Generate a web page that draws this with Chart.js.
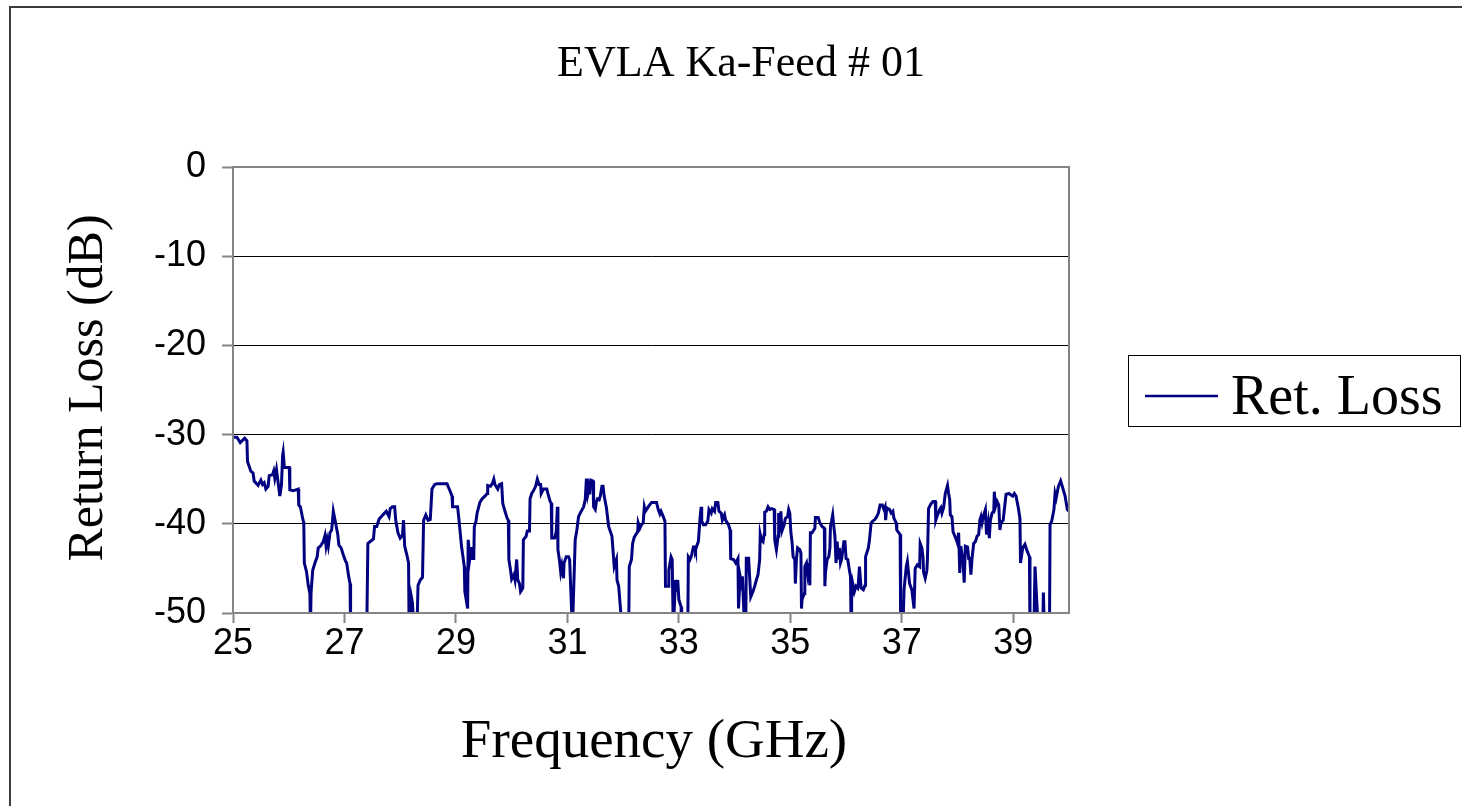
<!DOCTYPE html>
<html>
<head>
<meta charset="utf-8">
<script src="https://cdn.jsdelivr.net/npm/chart.js@4.4.1/dist/chart.umd.min.js"></script>
<style>
  html, body { margin: 0; padding: 0; background: #ffffff; }
  #wrap { position: relative; width: 1462px; height: 806px; }
  canvas { display: block; }
</style>
</head>
<body>
<div id="wrap"><canvas id="c" width="1462" height="806"></canvas></div>
<script>
// ---- Data ----
const chartTitle = "EVLA Ka-Feed # 01";
const xTitle = "Frequency (GHz)";
const yTitle = "Return Loss (dB)";
const seriesName = "Ret. Loss";

const xTicks = [25, 27, 29, 31, 33, 35, 37, 39];
const yTicks = [0, -10, -20, -30, -40, -50];

// Frequency (GHz); values of -52 lie below the -50 dB floor of the plot.
const freq = [
  25.00,25.07,25.13,25.21,25.25,25.26,25.32,25.36,25.38,25.45,
  25.50,25.53,25.56,25.59,25.63,25.65,25.71,25.73,25.75,25.78,
  25.83,25.84,25.87,25.89,25.90,25.92,25.95,26.01,26.02,26.08,
  26.17,26.18,26.21,26.25,26.27,26.28,26.32,26.35,26.38,26.39,
  26.40,26.43,26.47,26.51,26.53,26.57,26.62,26.65,26.67,26.69,
  26.71,26.74,26.77,26.80,26.84,26.88,26.90,26.94,26.98,27.02,
  27.04,27.07,27.10,27.11,27.40,27.42,27.48,27.52,27.54,27.58,
  27.62,27.69,27.75,27.80,27.82,27.86,27.90,27.92,27.96,28.00,
  28.04,28.06,28.08,28.12,28.15,28.16,28.20,28.22,28.25,28.30,
  28.32,28.36,28.40,28.42,28.46,28.50,28.54,28.57,28.62,28.66,
  28.84,28.90,28.93,28.94,29.03,29.06,29.10,29.15,29.16,29.21,
  29.22,29.25,29.28,29.29,29.32,29.33,29.36,29.38,29.43,29.47,
  29.52,29.56,29.57,29.62,29.66,29.68,29.70,29.75,29.78,29.82,
  29.84,29.88,29.92,29.94,29.95,29.98,30.00,30.04,30.06,30.09,
  30.11,30.14,30.16,30.20,30.21,30.26,30.28,30.32,30.33,30.36,
  30.39,30.43,30.46,30.49,30.52,30.53,30.57,30.63,30.65,30.69,
  30.71,30.72,30.77,30.80,30.82,30.83,30.86,30.88,30.90,30.93,
  30.94,30.98,31.02,31.04,31.09,31.14,31.17,31.20,31.23,31.29,
  31.32,31.34,31.36,31.37,31.39,31.40,31.42,31.46,31.47,31.50,
  31.52,31.54,31.57,31.59,31.62,31.64,31.66,31.70,31.74,31.80,
  31.84,31.88,31.89,31.92,31.95,31.98,32.10,32.11,32.15,32.17,
  32.20,32.26,32.27,32.30,32.33,32.36,32.38,32.40,32.45,32.51,
  32.60,32.63,32.66,32.68,32.72,32.75,32.76,32.81,32.82,32.86,
  32.88,32.90,32.94,32.96,32.98,33.00,33.04,33.05,33.16,33.17,
  33.20,33.23,33.26,33.29,33.30,33.32,33.35,33.38,33.40,33.41,
  33.44,33.48,33.52,33.54,33.58,33.60,33.64,33.66,33.70,33.72,
  33.76,33.78,33.82,33.84,33.89,33.92,33.93,33.98,34.02,34.06,
  34.07,34.10,34.13,34.14,34.18,34.20,34.21,34.24,34.25,34.29,
  34.33,34.36,34.39,34.42,34.45,34.46,34.48,34.51,34.53,34.54,
  34.57,34.60,34.63,34.66,34.71,34.72,34.75,34.78,34.79,34.81,
  34.83,34.85,34.89,34.91,34.95,34.97,34.99,35.01,35.03,35.05,
  35.08,35.09,35.11,35.13,35.17,35.19,35.20,35.21,35.25,35.26,
  35.29,35.31,35.33,35.35,35.36,35.39,35.44,35.45,35.50,35.53,
  35.57,35.61,35.62,35.63,35.66,35.69,35.71,35.72,35.74,35.76,
  35.78,35.80,35.82,35.84,35.86,35.88,35.90,35.92,35.96,35.98,
  36.00,36.03,36.06,36.08,36.09,36.10,36.12,36.15,36.18,36.21,
  36.22,36.24,36.27,36.31,36.34,36.35,36.40,36.42,36.45,36.48,
  36.52,36.55,36.58,36.61,36.65,36.68,36.70,36.71,36.73,36.78,
  36.81,36.84,36.86,36.90,36.91,36.97,36.98,37.02,37.04,37.08,
  37.10,37.14,37.18,37.22,37.24,37.28,37.32,37.33,37.36,37.38,
  37.39,37.42,37.45,37.46,37.48,37.52,37.56,37.60,37.61,37.63,
  37.68,37.70,37.72,37.75,37.78,37.82,37.84,37.86,37.87,37.90,
  37.92,37.94,37.98,38.00,38.02,38.04,38.06,38.10,38.12,38.14,
  38.18,38.20,38.22,38.24,38.26,38.29,38.32,38.35,38.38,38.40,
  38.42,38.44,38.47,38.50,38.52,38.55,38.57,38.59,38.62,38.65,
  38.66,38.68,38.71,38.74,38.76,38.78,38.82,38.84,38.87,38.92,
  38.99,39.02,39.05,39.09,39.12,39.13,39.17,39.21,39.24,39.29,
  39.30,39.37,39.39,39.42,39.45,39.53,39.54,39.56,39.65,39.66,
  39.69,39.73,39.75,39.77,39.81,39.85,39.88,39.93,39.97,40.00
];

// Return loss (dB)
const loss = [
  -30.3,-30.3,-30.9,-30.4,-30.7,-33.0,-34.1,-34.3,-35.2,-35.7,
  -35.1,-35.6,-35.4,-36.1,-35.8,-34.6,-34.5,-34.1,-34.9,-33.9,
  -36.4,-36.9,-35.6,-32.4,-32.0,-33.6,-33.7,-33.7,-36.2,-36.3,
  -36.1,-37.9,-38.1,-39.4,-39.9,-44.4,-45.4,-46.9,-47.8,-52,
  -47.8,-45.2,-44.4,-43.7,-42.7,-42.5,-42.0,-41.3,-42.5,-41.8,
  -42.5,-41.0,-40.7,-38.6,-39.9,-41.2,-42.4,-42.7,-43.5,-44.2,
  -44.4,-45.7,-46.7,-52,-52,-42.2,-41.9,-41.7,-40.3,-40.3,
  -39.5,-39.0,-38.6,-39.2,-38.3,-38.1,-38.1,-39.6,-41.0,-41.6,
  -41.3,-39.6,-42.5,-43.5,-44.4,-52,-48.2,-48.9,-52,-52,
  -46.9,-46.3,-46.0,-39.6,-39.0,-39.6,-39.5,-36.1,-35.6,-35.5,
  -35.5,-36.4,-36.9,-38.1,-38.1,-39.9,-42.5,-44.8,-47.6,-49.5,
  -41.8,-43.9,-42.6,-43.9,-43.9,-40.3,-39.7,-38.8,-37.6,-37.2,
  -36.9,-36.6,-35.7,-35.8,-35.4,-35.0,-35.6,-36.1,-35.6,-35.5,
  -37.7,-38.6,-39.4,-39.6,-44.0,-45.2,-46.2,-45.7,-46.3,-44.0,
  -46.3,-46.7,-47.6,-47.2,-41.8,-41.4,-40.8,-40.8,-37.2,-36.6,
  -36.3,-35.8,-35.0,-35.6,-35.6,-36.6,-36.1,-36.1,-36.6,-37.5,
  -37.7,-41.6,-41.6,-40.9,-38.1,-42.9,-44.2,-45.4,-44.7,-46.1,
  -44.4,-43.7,-43.7,-44.0,-52,-41.8,-40.7,-39.2,-38.8,-38.1,
  -37.3,-35.1,-35.1,-36.6,-36.0,-36.7,-35.1,-35.2,-38.1,-38.4,
  -37.5,-37.2,-37.3,-36.9,-35.8,-35.8,-36.9,-38.2,-40.3,-41.4,
  -44.8,-44.0,-46.3,-47.0,-49.3,-52,-52,-44.8,-44.0,-42.2,
  -41.5,-40.9,-39.9,-40.5,-40.1,-39.9,-38.1,-38.6,-38.1,-37.6,
  -37.6,-38.4,-38.9,-38.6,-39.2,-39.7,-47.0,-47.0,-45.2,-43.7,
  -44.0,-52,-46.3,-47.6,-46.3,-48.5,-49.3,-52,-52,-43.7,
  -44.0,-43.5,-42.6,-42.6,-42.9,-42.5,-42.0,-39.4,-38.1,-39.7,
  -40.1,-40.1,-39.7,-38.4,-38.8,-38.3,-38.6,-37.6,-37.6,-38.6,
  -38.8,-39.6,-39.0,-39.6,-40.1,-40.7,-43.9,-44.0,-44.4,-43.9,
  -49.5,-45.9,-46.9,-45.9,-52,-52,-43.7,-45.5,-43.7,-48.2,
  -47.6,-47.0,-46.3,-45.7,-44.0,-41.2,-41.8,-42.0,-41.2,-38.7,
  -38.6,-38.1,-38.4,-38.3,-38.4,-41.8,-42.9,-41.4,-38.8,-41.0,
  -38.6,-40.8,-40.1,-39.4,-39.2,-38.4,-38.8,-41.0,-42.0,-43.7,
  -44.0,-46.7,-43.9,-42.7,-42.9,-43.3,-49.5,-48.5,-47.8,-44.8,
  -44.4,-45.5,-44.4,-46.9,-41.0,-41.0,-40.5,-39.3,-39.3,-39.9,
  -40.3,-40.5,-47.0,-45.5,-44.0,-43.7,-42.7,-40.3,-39.7,-39.0,
  -40.3,-41.4,-44.4,-42.0,-44.0,-42.7,-44.4,-44.0,-42.0,-42.0,
  -43.9,-44.0,-45.2,-45.9,-52,-48.5,-46.7,-47.6,-47.0,-47.2,
  -46.7,-44.8,-47.2,-47.4,-46.9,-43.7,-42.7,-41.8,-39.9,-39.7,
  -39.5,-39.2,-38.8,-37.9,-37.9,-38.4,-38.1,-39.6,-38.2,-38.4,
  -38.8,-38.6,-39.4,-39.9,-40.7,-41.2,-52,-52,-47.4,-44.8,
  -44.2,-46.7,-47.4,-49.5,-45.0,-44.6,-44.8,-42.2,-42.7,-43.7,
  -45.4,-46.1,-45.2,-44.0,-38.3,-37.8,-37.5,-37.5,-39.6,-39.2,
  -38.4,-38.2,-38.8,-38.2,-36.6,-35.7,-36.6,-37.3,-39.0,-39.2,
  -40.9,-41.2,-41.8,-42.2,-41.0,-45.5,-42.5,-44.4,-46.6,-42.5,
  -42.6,-43.9,-43.9,-45.7,-43.9,-42.2,-42.0,-41.4,-41.2,-39.6,
  -39.2,-39.9,-39.0,-38.4,-41.2,-39.9,-41.6,-39.6,-38.8,-38.6,
  -36.4,-38.1,-37.5,-37.9,-40.7,-39.9,-39.6,-38.4,-36.7,-36.6,
  -36.9,-36.6,-36.9,-38.2,-39.4,-44.4,-42.7,-42.3,-42.9,-43.7,
  -52,-52,-44.8,-48.5,-52,-52,-47.7,-52,-52,-40.1,
  -39.7,-38.4,-36.6,-37.1,-35.8,-35.2,-35.8,-36.9,-38.4,-38.6
];

// ---- Drawing ----
const SANS = "'Liberation Sans', Arial, sans-serif";
const SERIF = "'Liberation Serif', 'Times New Roman', serif";
const AXIS_GRAY = '#858585';
const LINE_COLOR = '#000080';

const points = freq.map((f, i) => ({ x: f, y: loss[i] }));

const decor = {
  id: 'decor',
  beforeDraw(chart) {
    const ctx = chart.ctx;
    ctx.save();
    ctx.fillStyle = '#ffffff';
    ctx.fillRect(0, 0, chart.width, chart.height);
    ctx.restore();
  },
  afterDraw(chart) {
    const ctx = chart.ctx;
    const a = chart.chartArea;
    ctx.save();
    // outer chart frame
    ctx.strokeStyle = '#3c3c3c';
    ctx.lineWidth = 2;
    ctx.strokeRect(10, 7, 1600, 1000);
    // plot area border
    ctx.strokeStyle = AXIS_GRAY;
    ctx.lineWidth = 2;
    ctx.strokeRect(a.left, a.top, a.right - a.left, a.bottom - a.top);

    ctx.fillStyle = '#000';
    // chart title
    ctx.font = '44px ' + SERIF;
    ctx.textAlign = 'center';
    ctx.textBaseline = 'alphabetic';
    ctx.fillText(chartTitle, 741, 76);
    // x axis title
    ctx.font = '55px ' + SERIF;
    ctx.fillText(xTitle, 654, 757);
    // y axis title
    ctx.save();
    ctx.translate(102, 388);
    ctx.rotate(-Math.PI / 2);
    ctx.font = '50px ' + SERIF;
    ctx.fillText(yTitle, 0, 0);
    ctx.restore();

    // legend
    ctx.strokeStyle = '#000';
    ctx.lineWidth = 1;
    ctx.strokeRect(1128.5, 355.5, 332, 71);
    ctx.strokeStyle = LINE_COLOR;
    ctx.lineWidth = 2.5;
    ctx.beginPath();
    ctx.moveTo(1145, 396);
    ctx.lineTo(1218, 396);
    ctx.stroke();
    ctx.font = '56px ' + SERIF;
    ctx.textAlign = 'left';
    ctx.fillText(seriesName, 1231, 414);
    ctx.restore();
  }
};

new Chart(document.getElementById('c'), {
  type: 'line',
  data: {
    datasets: [{
      label: seriesName,
      data: points,
      borderColor: LINE_COLOR,
      backgroundColor: LINE_COLOR,
      borderWidth: 3,
      pointRadius: 0,
      tension: 0,
      fill: false,
      clip: 0
    }]
  },
  options: {
    responsive: false,
    animation: false,
    devicePixelRatio: 1,
    layout: { padding: { top: 167, right: 393, left: 0, bottom: 0 } },
    plugins: {
      legend: { display: false },
      title: { display: false },
      tooltip: { enabled: false }
    },
    scales: {
      x: {
        type: 'linear',
        min: 25,
        max: 40,
        afterFit: s => { s.height = 193; },
        afterBuildTicks: s => { s.ticks = xTicks.map(v => ({ value: v })); },
        grid: {
          drawOnChartArea: false,
          drawTicks: true,
          tickLength: 10,
          tickColor: AXIS_GRAY,
          tickWidth: 2
        },
        border: { display: true, color: AXIS_GRAY, width: 2 },
        ticks: {
          color: '#000',
          font: { family: SANS, size: 36 },
          padding: -1,
          maxRotation: 0,
          autoSkip: false,
          callback: v => String(v)
        }
      },
      y: {
        min: -50,
        max: 0,
        afterFit: s => { s.width = 233; },
        afterBuildTicks: s => { s.ticks = yTicks.map(v => ({ value: v })); },
        grid: {
          color: c => (c.tick && (c.tick.value === 0 || c.tick.value === -50)) ? 'rgba(0,0,0,0)' : '#000000',
          lineWidth: 1,
          drawTicks: true,
          tickLength: 11,
          tickColor: AXIS_GRAY,
          tickWidth: 2
        },
        border: { display: true, color: AXIS_GRAY, width: 2 },
        ticks: {
          color: '#000',
          font: { family: SANS, size: 36 },
          padding: 16,
          autoSkip: false,
          callback: v => String(v)
        }
      }
    }
  },
  plugins: [decor]
});
</script>
</body>
</html>
